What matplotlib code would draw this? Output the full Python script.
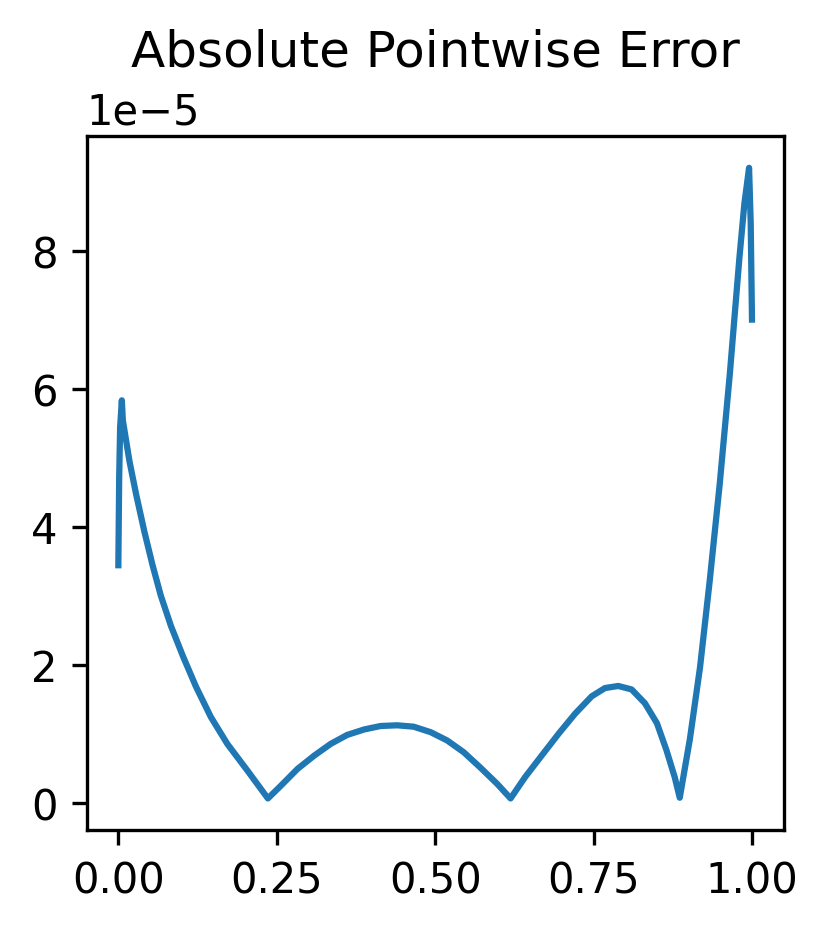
import matplotlib
matplotlib.use('Agg')
import matplotlib.pyplot as plt
import numpy as np

# values (error in units of 1e-5)
x = [0.0, 0.0013, 0.0028, 0.0055,
     0.0071, 0.0175, 0.028, 0.041, 0.054, 0.067, 0.083, 0.102, 0.1225,
     0.146, 0.172, 0.204, 0.236,
     0.256, 0.283, 0.309, 0.335, 0.361, 0.388, 0.414, 0.440, 0.466,
     0.493, 0.519, 0.545, 0.571, 0.598, 0.619,
     0.642, 0.668, 0.695, 0.721, 0.747, 0.768, 0.789, 0.810, 0.831,
     0.850, 0.865, 0.878, 0.886,
     0.902, 0.918, 0.933, 0.949, 0.965, 0.980, 0.988, 0.9954, 0.998, 1.0]
err = [3.44, 4.71, 5.44, 5.83,
       5.54, 4.95, 4.47, 3.93, 3.44, 3.00, 2.56, 2.12, 1.68,
       1.24, 0.85, 0.46, 0.06,
       0.24, 0.49, 0.68, 0.85, 0.98, 1.06, 1.11, 1.12, 1.10,
       1.02, 0.90, 0.73, 0.51, 0.27, 0.06,
       0.37, 0.68, 1.00, 1.29, 1.54, 1.66, 1.69, 1.64, 1.44,
       1.15, 0.76, 0.37, 0.07,
       0.92, 1.96, 3.19, 4.61, 6.21, 7.88, 8.68, 9.20, 8.40, 7.0]

x = np.array(x)
err = np.array(err) * 1e-5

fig = plt.figure(figsize=(827/300, 932/300), dpi=300)
ax = fig.add_axes([0.1048, 0.1084, 0.8428, 0.7443])
ax.plot(x, err)
ax.set_title('Absolute Pointwise Error')
fig.savefig('out.png', dpi=300)
